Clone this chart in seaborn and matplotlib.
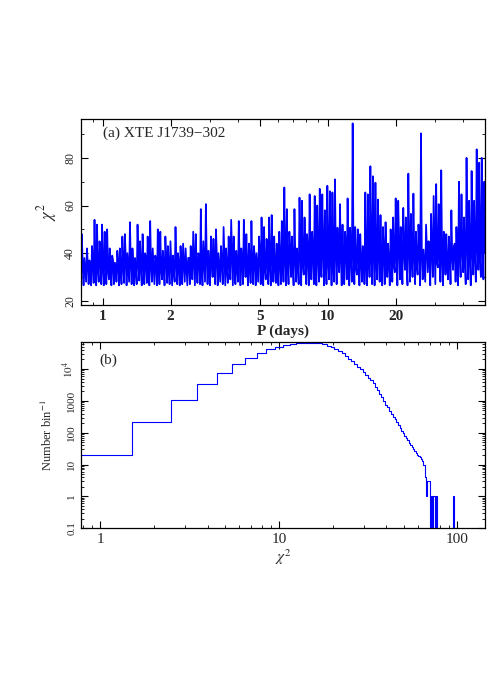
import numpy as np
import matplotlib
matplotlib.use('Agg')
import matplotlib.pyplot as plt
import seaborn as sns
from matplotlib.ticker import MultipleLocator, LogLocator, NullFormatter

sns.set_style('ticks')
plt.rcParams['font.family'] = ['Liberation Serif', 'DejaVu Serif']
plt.rcParams['mathtext.fontset'] = 'stix'

# (a) period scan, left to right in log P: trough, spike top, shoulder
scan_peaks = [
    48, 38, 42, 37, 43, 54, 52, 45, 52, 49, 50, 42, 39, 36, 41, 42, 47, 48, 40, 53,
    42, 38, 52, 45, 48, 40, 47, 53.5, 42, 39, 50, 49, 41, 47, 43, 45, 39, 51, 40, 43,
    44, 42, 38, 43, 49, 48, 40, 58.5, 45, 60.6, 41, 47, 46, 50, 40, 43, 51, 42, 47, 54,
    47, 41, 53.5, 42, 54, 48, 44, 53.5, 43, 40, 47, 55, 51, 46, 55, 56, 47, 44, 49, 53.5,
    67.6, 58.5, 49, 47, 58.5, 42, 63.3, 62, 55, 48, 64.7, 49, 64, 60, 67, 64.7, 58, 68.3, 66, 65.5,
    71, 50.7, 60.6, 52, 49, 63, 50.7, 94.5, 51, 50, 48, 43, 65.5, 64.7, 76.5, 72.3, 69.6, 62.5, 56, 51,
    53, 44, 50, 55, 63, 62, 51, 59, 55, 73.4, 56.5, 65, 49, 52, 90.3, 41.5, 52, 45, 56.5, 64,
    69, 60.6, 74.8, 49, 48, 47, 58, 43, 51, 70, 64.7, 55, 80, 62, 74.5, 62, 83.6, 78, 80, 70,
]
scan_floor = [
    27, 26.5, 28, 27, 26.5, 27.5, 26.5, 28, 27, 26.5, 27, 29, 26.5, 27, 28, 26.5, 27, 27.5, 26.5, 28,
    27, 26.5, 27, 28.5, 26.5, 27, 27.5, 26.5, 28, 27, 26.5, 27, 29, 26.5, 27.5, 27, 26.5, 28, 27, 26.5,
    27, 28, 26.5, 27, 29, 26.5, 27.5, 27, 26.5, 28, 27, 26.5, 30, 27, 26.5, 28, 27, 26.5, 27.5, 29,
    26.5, 27, 28, 26.5, 27, 30, 26.5, 27.5, 27, 26.5, 28, 27, 26.5, 29, 27, 26.5, 28, 27.5, 26.5, 27,
    28, 26.5, 27, 30, 26.5, 28, 27, 26.5, 31, 27, 26.5, 29, 27, 26.5, 28, 30, 26.5, 27, 29, 26.5,
    28, 27, 32, 26.5, 27, 29, 26.5, 28, 27, 31, 26.5, 28, 27, 26.5, 30, 27, 26.5, 29, 28, 26.5,
    27, 30, 26.5, 28, 32, 26.5, 29, 27, 33, 26.5, 28, 30, 27, 31, 26.5, 29, 28, 32, 26.5, 30,
    27, 34, 28, 26.5, 31, 29, 27, 33, 28, 26.5, 30, 32, 27, 29, 26.5, 31, 28, 33, 30, 29,
]
scan_mid = [
    35, 33, 36, 34, 37, 35, 33, 38, 34, 36, 33, 35, 37, 34, 36, 33, 35, 38, 34, 36,
    35, 33, 37, 34, 36, 38, 33, 35, 34, 37, 36, 33, 35, 38, 34, 36, 33, 37, 35, 34,
    36, 34, 38, 33, 37, 35, 39, 34, 36, 38, 33, 37, 35, 39, 34, 36, 38, 33, 37, 40,
    35, 34, 38, 36, 39, 33, 37, 35, 38, 34, 40, 36, 33, 38, 35, 39, 34, 37, 36, 38,
    38, 35, 41, 34, 39, 36, 42, 35, 38, 40, 34, 41, 37, 39, 35, 42, 38, 36, 40, 34,
    41, 37, 39, 35, 43, 36, 38, 40, 34, 41, 37, 42, 35, 39, 38, 43, 36, 40, 37, 41,
    39, 36, 42, 35, 40, 44, 37, 41, 35, 43, 38, 40, 36, 44, 39, 35, 42, 37, 41, 45,
    36, 40, 38, 43, 35, 41, 39, 44, 37, 40, 42, 36, 45, 38, 41, 39, 43, 37, 44, 40,
]
period_range = (0.8, 50)

# (b) number of trial periods per unit chi^2 bin, bins centred on 1, 2, 3 ...
hist_counts = [
    20, 210, 1100, 3400, 7600, 14000, 22500, 32000, 41500, 50000,
    56500, 61500, 65000, 67500, 68000, 67500, 64500, 60300, 54300, 47900,
    42200, 36700, 31600, 26300, 21400, 17400, 14500, 11900, 9800, 7900,
    6500, 5400, 4400, 3550, 2750, 2150, 1660, 1290, 980, 760,
    620, 490, 400, 316, 263, 214, 174, 141, 117, 95,
    81, 68, 58, 48, 42, 35, 31, 26, 23, 20,
    19, 17, 15, 13, 10, 4, 1, 3, 3, 3,
    0, 1, 0, 1, 0, 1, 0, 0, 0, 0,
    0, 0, 0, 0, 0, 0, 0, 0, 0, 0,
    0, 0, 0, 0, 1, 0,
]

chi2_scan = np.column_stack([scan_floor, scan_peaks, scan_mid]).ravel()
periods = np.geomspace(period_range[0], period_range[1], len(chi2_scan))

edges = np.arange(len(hist_counts) + 1) + 0.5
step_y = hist_counts + [hist_counts[-1]]

fig = plt.figure(figsize=(4.91, 6.95), dpi=100)
ax1 = fig.add_axes([0.165, 0.561, 0.823, 0.268])
ax2 = fig.add_axes([0.165, 0.240, 0.823, 0.268])

# top panel
sns.lineplot(x=periods, y=chi2_scan, ax=ax1, color='blue', lw=1.25,
             estimator=None, sort=False)
ax1.set_xscale('log')
ax1.set_xlim(*period_range)
ax1.set_ylim(18.2, 96.4)
ax1.set_xticks([1, 2, 5, 10, 20])
ax1.set_xticklabels(['1', '2', '5', '10', '20'], fontsize=11, fontweight='bold')
ax1.xaxis.set_minor_formatter(NullFormatter())
ax1.set_yticks([20, 40, 60, 80])
ax1.yaxis.set_minor_locator(MultipleLocator(10))
ax1.tick_params(axis='y', labelsize=8.5, labelrotation=90)
for t in ax1.get_yticklabels():
    t.set_va('center')
ax1.set_xlabel('P (days)', fontsize=11, fontweight='bold', labelpad=1)
ax1.set_ylabel(r'$\chi^2$', fontsize=12, labelpad=4)
ax1.text(0.055, 0.92, '(a) XTE J1739\u2212302', transform=ax1.transAxes,
         fontsize=11, va='center', ha='left')

# bottom panel
sns.lineplot(x=edges, y=step_y, ax=ax2, color='blue', lw=0.8,
             drawstyle='steps-post', estimator=None, sort=False)
ax2.set_xscale('log')
ax2.set_yscale('log')
ax2.set_xlim(0.78, 143)
ax2.set_ylim(0.1, 7.1e4)
ax2.set_xticks([1, 10, 100])
ax2.set_xticklabels(['1', '10', '100'], fontsize=11)
ax2.xaxis.set_minor_formatter(NullFormatter())
ax2.set_yticks([0.1, 1, 10, 100, 1000, 1e4])
ax2.set_yticklabels(['0.1', '1', '10', '100', '1000', r'$10^4$'])
ax2.yaxis.set_minor_locator(LogLocator(base=10, subs=np.arange(2, 10)))
ax2.yaxis.set_minor_formatter(NullFormatter())
ax2.tick_params(axis='y', labelsize=8, labelrotation=90)
for t in ax2.get_yticklabels():
    t.set_va('center')
ax2.set_xlabel(r'$\chi^2$', fontsize=11, labelpad=1)
ax2.set_ylabel('Number bin$^{-1}$', fontsize=9, labelpad=4)
ax2.text(0.045, 0.9, '(b)', transform=ax2.transAxes, fontsize=11,
         va='center', ha='left')

for ax in (ax1, ax2):
    ax.tick_params(which='both', direction='in', top=True, right=True,
                   color='black')
    ax.tick_params(which='major', length=5, width=0.8)
    ax.tick_params(which='minor', length=2.5, width=0.6)
    for s in ax.spines.values():
        s.set_linewidth(0.9)
        s.set_color('black')

fig.savefig('out.png', dpi=100)
